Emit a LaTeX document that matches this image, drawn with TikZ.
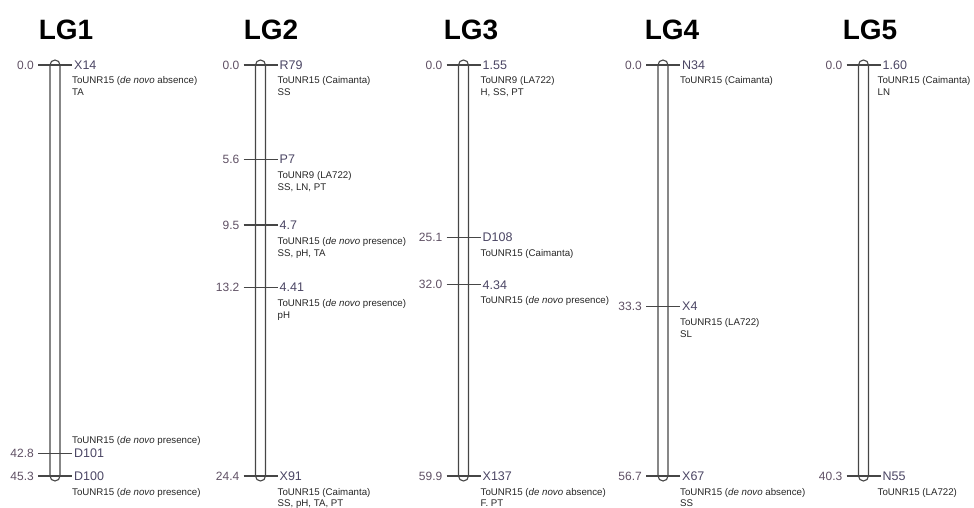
\documentclass[tikz,border=0pt]{standalone}
\usepackage{fontspec}
\setmainfont{Liberation Sans}
\definecolor{numc}{RGB}{95,80,100}
\definecolor{namec}{RGB}{75,70,100}
\definecolor{linec}{RGB}{70,70,70}
\tikzset{
 chrombar/.style={draw=linec, line width=1.1pt, rounded corners=5pt},
 tickline/.style={draw=linec, line width=1.1pt},
 poslabel/.style={anchor=base east, inner sep=0pt, font=\fontsize{12}{14}\selectfont, text=numc},
 mname/.style={anchor=base west, inner sep=0pt, font=\fontsize{12.5}{14}\selectfont, text=namec},
 annot/.style={anchor=base west, inner sep=0pt, font=\fontsize{9.7}{12}\selectfont, text=black!85},
 lgtitle/.style={anchor=base, inner sep=0pt, font=\bfseries\fontsize{28}{32}\selectfont},
}
\newcommand{\mrk}[5]{%
 \coordinate (#1l) at ({#2-17},{507-#3});
 \coordinate (#1r) at ({#2+17},{507-#3});
 \draw[tickline] (#1l) -- (#1r);
 \node[poslabel] (#1p) at ({#2-21},{507-#3-4.3}) {#4};
 \node[mname] (#1n) at ({#2+19},{507-#3-4.5}) {#5};
}
\newcommand{\ann}[4]{\node[annot] (#1) at ({#2+17},{507-#3-1.5}) {#4};}
\newcommand{\chrbar}[1]{\draw[chrombar] ({#1-5},447) rectangle ({#1+5},26);}
\begin{document}
\begin{tikzpicture}[x=1pt,y=1pt]
\useasboundingbox (0,0) rectangle (974,507);
% titles
\node[lgtitle] (t1) at (66,467) {LG1};
\node[lgtitle] (t2) at (271,467) {LG2};
\node[lgtitle] (t3) at (471,467) {LG3};
\node[lgtitle] (t4) at (672,467) {LG4};
\node[lgtitle] (t5) at (870,467) {LG5};
% bars
\chrbar{55}
\chrbar{260.5}
\chrbar{463.5}
\chrbar{663}
\chrbar{863.5}
% LG1
\mrk{a1}{55}{65}{0.0}{X14}
\ann{a1x}{55}{82.5}{ToUNR15 (\textit{de novo} absence)}
\ann{a1y}{55}{94.5}{TA}
\mrk{a2}{55}{453.3}{42.8}{D101}
\ann{a2x}{55}{441.9}{ToUNR15 (\textit{de novo} presence)}
\mrk{a3}{55}{476}{45.3}{D100}
\ann{a3x}{55}{493.5}{ToUNR15 (\textit{de novo} presence)}
% LG2
\mrk{b1}{260.5}{65}{0.0}{R79}
\ann{b1x}{260.5}{82.5}{ToUNR15 (Caimanta)}
\ann{b1y}{260.5}{94.5}{SS}
\mrk{b2}{260.5}{159.3}{5.6}{P7}
\ann{b2x}{260.5}{176.8}{ToUNR9 (LA722)}
\ann{b2y}{260.5}{188.8}{SS, LN, PT}
\mrk{b3}{260.5}{225}{9.5}{4.7}
\ann{b3x}{260.5}{242.5}{ToUNR15 (\textit{de novo} presence)}
\ann{b3y}{260.5}{254.5}{SS, pH, TA}
\mrk{b4}{260.5}{287.4}{13.2}{4.41}
\ann{b4x}{260.5}{304.9}{ToUNR15 (\textit{de novo} presence)}
\ann{b4y}{260.5}{316.9}{pH}
\mrk{b5}{260.5}{476}{24.4}{X91}
\ann{b5x}{260.5}{493.5}{ToUNR15 (Caimanta)}
\ann{b5y}{260.5}{504.8}{SS, pH, TA, PT}
% LG3
\mrk{c1}{463.5}{65}{0.0}{1.55}
\ann{c1x}{463.5}{82.5}{ToUNR9 (LA722)}
\ann{c1y}{463.5}{94.5}{H, SS, PT}
\mrk{c2}{463.5}{237.2}{25.1}{D108}
\ann{c2x}{463.5}{254.7}{ToUNR15 (Caimanta)}
\mrk{c3}{463.5}{284.6}{32.0}{4.34}
\ann{c3x}{463.5}{302.1}{ToUNR15 (\textit{de novo} presence)}
\mrk{c4}{463.5}{476}{59.9}{X137}
\ann{c4x}{463.5}{493.5}{ToUNR15 (\textit{de novo} absence)}
\ann{c4y}{463.5}{504.8}{F. PT}
% LG4
\mrk{d1}{663}{65}{0.0}{N34}
\ann{d1x}{663}{82.5}{ToUNR15 (Caimanta)}
\mrk{d2}{663}{306.4}{33.3}{X4}
\ann{d2x}{663}{323.9}{ToUNR15 (LA722)}
\ann{d2y}{663}{335.9}{SL}
\mrk{d3}{663}{476}{56.7}{X67}
\ann{d3x}{663}{493.5}{ToUNR15 (\textit{de novo} absence)}
\ann{d3y}{663}{504.8}{SS}
% LG5
\mrk{e1}{863.5}{65}{0.0}{1.60}
\ann{e1x}{860.5}{82.5}{ToUNR15 (Caimanta)}
\ann{e1y}{860.5}{94.5}{LN}
\mrk{e2}{863.5}{476}{40.3}{N55}
\ann{e2x}{860.5}{493.5}{ToUNR15 (LA722)}
\end{tikzpicture}
\end{document}
